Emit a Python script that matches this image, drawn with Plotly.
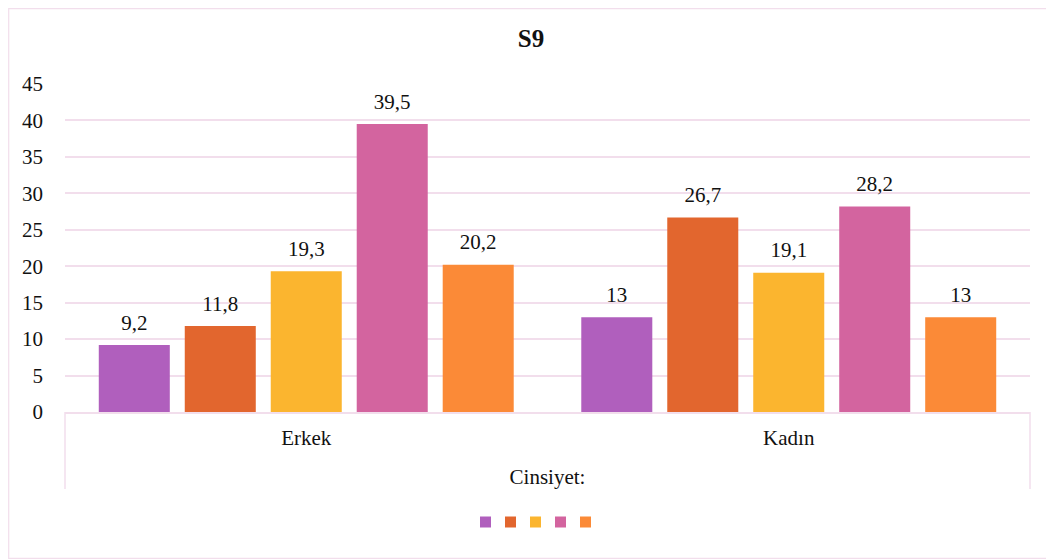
import plotly.graph_objects as go

categories = ["Erkek", "Kadın"]
series_names = ["A", "B", "C", "D", "E"]
values = [
    [9.2, 13],
    [11.8, 26.7],
    [19.3, 19.1],
    [39.5, 28.2],
    [20.2, 13],
]
colors = ["#B05FBD", "#E2662E", "#FBB52F", "#D3649F", "#FB8A37"]
y_ticks = [0, 5, 10, 15, 20, 25, 30, 35, 40, 45]
axis_title = "Cinsiyet:"
chart_title = "S9"

FONT = '"Liberation Serif", "Times New Roman", Tinos, serif'
GRID = "#F2DEEC"
TXT = "#111111"
FS = 21

OFF = 8  # page body margin of the browser
W, H = 1054 - OFF, 559 - OFF
L, R, T, B = 65 - OFF, 1030 - OFF, 84 - OFF, 412 - OFF
pw, ph = R - L, B - T


def fx(p):  # screen pixel x -> paper
    return (p - OFF - L) / pw


def fy(p):  # screen pixel y -> paper
    return (B - (p - OFF)) / ph


def fmt(v):
    s = f"{v:g}".replace(".", ",")
    return f"<span style='font-size:{FS}px'>{s}</span><br>&nbsp;"


fig = go.Figure()
for name, vals, col in zip(series_names, values, colors):
    fig.add_trace(go.Bar(
        x=categories, y=vals, name=name, showlegend=False,
        marker=dict(color=col, line=dict(width=0)),
        text=[fmt(v) for v in vals], textposition="outside", constraintext="none",
        textfont=dict(family=FONT, size=8, color=TXT),
        cliponaxis=False, hoverinfo="x+y",
    ))

shapes = [
    dict(type="line", xref="paper", yref="paper", x0=0, x1=0, y0=0, y1=fy(489),
         line=dict(color=GRID, width=1.5)),
    dict(type="line", xref="paper", yref="paper", x0=1, x1=1, y0=0, y1=fy(489),
         line=dict(color=GRID, width=1.5)),
    dict(type="rect", xref="paper", yref="paper", x0=fx(OFF + 0.7), x1=fx(1053.3),
         y0=fy(558.3), y1=fy(OFF + 0.7), line=dict(color=GRID, width=1.2)),
]
# legend swatches (legend entries have no text in the original)
for i, col in enumerate(colors):
    cx = 535.5 + (i - 2) * 25
    shapes.append(dict(type="rect", xref="paper", yref="paper",
                       x0=fx(cx - 5.5), x1=fx(cx + 5.5), y0=fy(527.5), y1=fy(516.5),
                       fillcolor=col, line=dict(width=0)))

fig.update_layout(
    width=W, height=H,
    margin=dict(l=L, r=W - R, t=T, b=H - B, pad=0, autoexpand=False),
    paper_bgcolor="white", plot_bgcolor="white",
    barmode="group", bargap=0.109, bargroupgap=0.174,
    font=dict(family=FONT, size=FS, color=TXT),
    title=dict(text=f"<b>{chart_title}</b>", x=0.5, xref="container", xanchor="center",
               y=1 - (38 - OFF) / H, yref="container", yanchor="middle",
               font=dict(family=FONT, size=25, color=TXT)),
    xaxis=dict(showgrid=False, showline=True, linecolor=GRID, linewidth=1.5,
               ticks="", ticklabelstandoff=6, automargin=False,
               tickfont=dict(family=FONT, size=FS, color=TXT),
               title=dict(text=axis_title, standoff=20,
                          font=dict(family=FONT, size=FS, color=TXT))),
    yaxis=dict(range=[0, 45], tickvals=y_ticks, showgrid=True, gridcolor=GRID, gridwidth=1.5,
               zeroline=False, showline=False, ticks="", ticklabelstandoff=21, automargin=False,
               tickfont=dict(family=FONT, size=FS, color=TXT)),
    showlegend=False,
    shapes=shapes,
)

fig.write_html("out.html")
